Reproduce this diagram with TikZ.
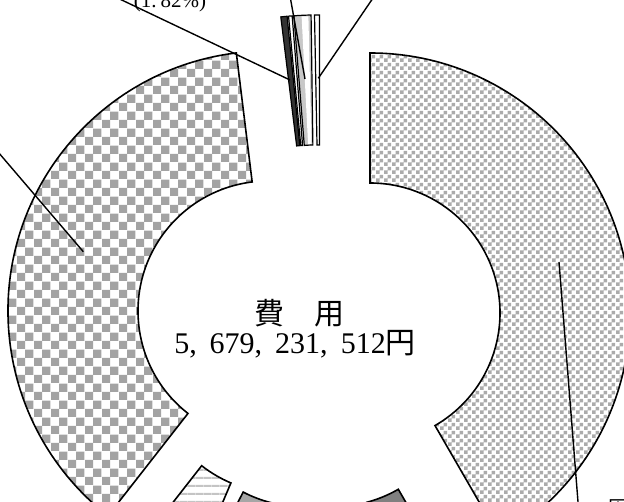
\documentclass[tikz,border=0pt]{standalone}
\usepackage{fontspec}
\setmainfont{Liberation Serif}
\newfontfamily\jpfont{Noto Sans CJK JP}
\usetikzlibrary{patterns}
\definecolor{coarsegray}{HTML}{A3A3A3}
\definecolor{finegray}{HTML}{ABABAB}
\definecolor{stripegray}{HTML}{C4C4C4}
\definecolor{midgray}{HTML}{A6A6A6}
\definecolor{deepgray}{HTML}{808080}
\definecolor{nearblack}{HTML}{333333}
\definecolor{palegray}{HTML}{C8C8C8}
% fill patterns of the ring pieces
\pgfdeclarepatternformonly{bigchecks}{\pgfpointorigin}{\pgfqpoint{16.66pt}{16.66pt}}{\pgfqpoint{16.66pt}{16.66pt}}{%
  \pgfpathrectangle{\pgfpointorigin}{\pgfqpoint{8.33pt}{8.33pt}}%
  \pgfpathrectangle{\pgfqpoint{8.33pt}{8.33pt}}{\pgfqpoint{8.33pt}{8.33pt}}%
  \pgfusepath{fill}}
\pgfdeclarepatternformonly{smallchecks}{\pgfpointorigin}{\pgfqpoint{8pt}{8pt}}{\pgfqpoint{8pt}{8pt}}{%
  \pgfpathrectangle{\pgfpointorigin}{\pgfqpoint{4pt}{4pt}}%
  \pgfpathrectangle{\pgfqpoint{4pt}{4pt}}{\pgfqpoint{4pt}{4pt}}%
  \pgfusepath{fill}}
\pgfdeclarepatternformonly{hstripes}{\pgfpointorigin}{\pgfqpoint{8.33pt}{8.33pt}}{\pgfqpoint{8.33pt}{8.33pt}}{%
  \pgfpathrectangle{\pgfpointorigin}{\pgfqpoint{8.33pt}{2.2pt}}%
  \pgfusepath{fill}}
% one exploded piece of the ring: centre x, centre y, start, end, style
\newcommand{\ringpart}[5]{%
  \draw[#5, shift={(#1,#2)}] (#3:260pt) arc[start angle=#3, end angle=#4, radius=260pt]
    -- (#4:130pt) arc[start angle=#4, end angle=#3, radius=130pt] -- cycle;%
}

\begin{document}
\begin{tikzpicture}[
    x=1pt, y=1pt,
    % Piece styles
    outline/.style={draw=black, line width=1.6pt},
    coarseseg/.style={outline, pattern=bigchecks, pattern color=coarsegray},
    fineseg/.style={outline, pattern=smallchecks, pattern color=finegray},
    stripeseg/.style={outline, pattern=hstripes, pattern color=stripegray},
    midseg/.style={outline, fill=midgray},
    darkseg/.style={outline, fill=deepgray},
    blackseg/.style={outline, line width=1.2pt, fill=nearblack},
    paleseg/.style={outline, line width=1.2pt, fill=palegray},
    whiteseg/.style={outline, line width=1.2pt, fill=white},
    % Edge styles
    leader/.style={draw=black, line width=1.4pt},
    % Label styles
    bigtext/.style={font=\fontsize{30}{36}\selectfont, inner sep=0pt},
    smalltext/.style={font=\fontsize{21}{25}\selectfont, inner sep=0pt}
]
\useasboundingbox (0,0) rectangle (624,502);
\clip (0,0) rectangle (624,502);

% ============ RING PIECES ============
\ringpart{370}{189}{90}{-60}{fineseg}
\ringpart{268}{191}{97}{232}{coarseseg}
\ringpart{281.7}{138.7}{232}{247}{stripeseg}
\ringpart{303}{125.3}{242.6}{268}{midseg}
\ringpart{333.3}{125.3}{285}{300}{darkseg}

% small pieces at the top
\ringpart{319.5}{227}{90}{91.1}{whiteseg}
\ringpart{314.7}{227}{90.8}{94.6}{paleseg}
\fill[white, shift={(314.7,227)}] (91.4:258.8pt) arc[start angle=91.4, end angle=92.9, radius=258.8pt]
    -- (92.9:131.2pt) arc[start angle=92.9, end angle=91.4, radius=131.2pt] -- cycle;
\ringpart{313}{227}{94.6}{95.4}{whiteseg}
\ringpart{312.5}{227}{95.6}{97}{blackseg}

% ============ CENTRE TEXT ============
\node[bigtext, anchor=base] (title) at (299,177.5) {\jpfont 費　用};
\node[bigtext, anchor=base] (amount) at (295,148)
    {5,\hspace{13pt}679,\hspace{13pt}231,\hspace{13pt}512{\jpfont 円}};

% ============ LABELS ============
\node[smalltext, anchor=base] (pctlabel) at (170,494) {(1.\hspace{4pt}82\%)};
\node[font=\jpfont\fontsize{20}{24}\selectfont, inner sep=0pt, anchor=base west] (cornerlabel) at (608,-14) {固};

% ============ LEADERS ============
\coordinate (pctend) at (100.7,512);
\coordinate (blacktip) at (290,422);
\coordinate (paleend) at (288.9,512);
\coordinate (paletip) at (305,423);
\coordinate (whiteend) at (378.5,512);
\coordinate (whitetip) at (318.3,423.7);
\coordinate (leftend) at (-10,359.4);
\coordinate (lefttip) at (83.3,250.3);
\coordinate (righttip) at (559,240);
\coordinate (rightend) at (578.8,-10);

\draw[leader] (pctend) -- (blacktip);
\draw[leader] (paleend) -- (paletip);
\draw[leader] (whiteend) -- (whitetip);
\draw[leader] (leftend) -- (lefttip);
\draw[leader] (righttip) -- (rightend);

\end{tikzpicture}
\end{document}
